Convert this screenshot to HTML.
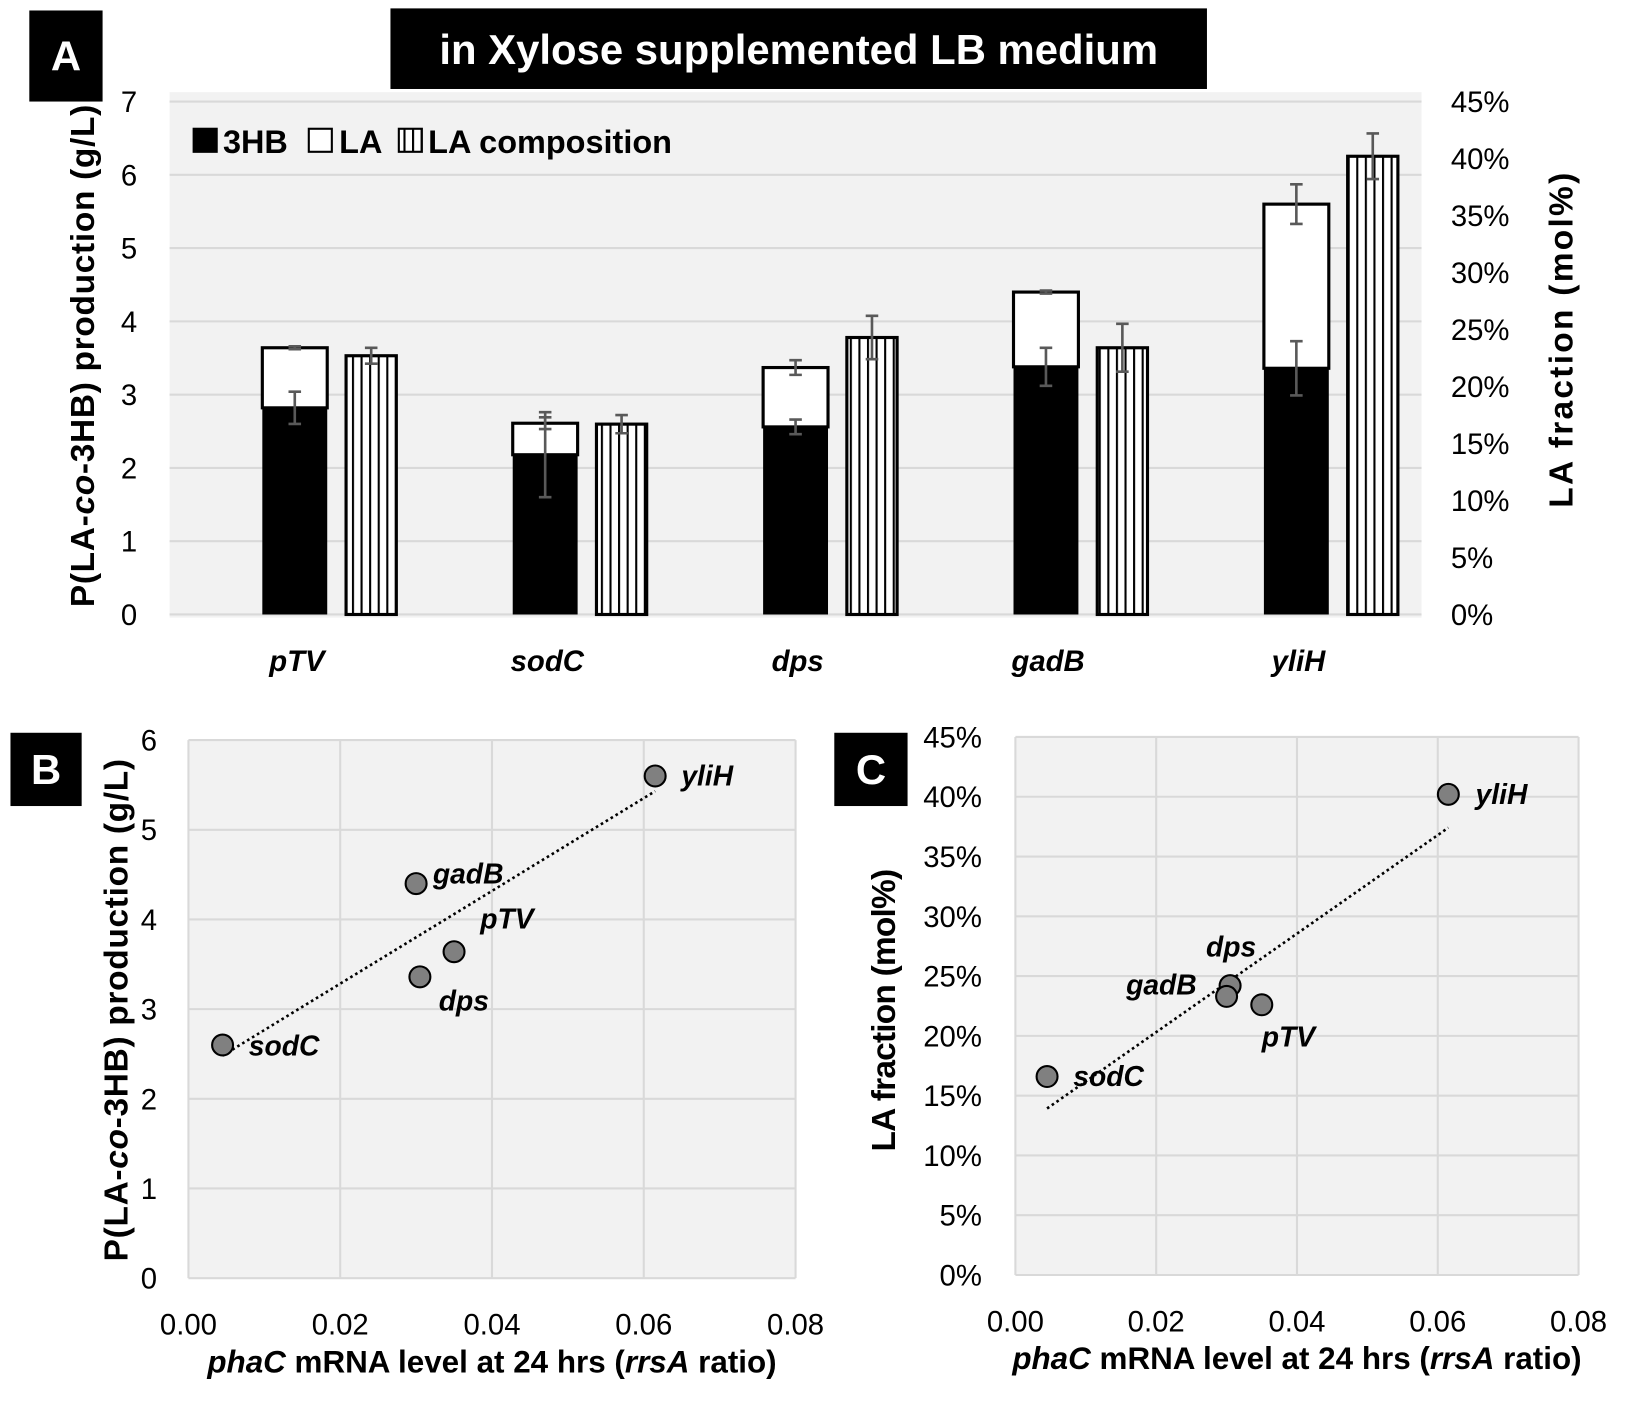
<!DOCTYPE html>
<html><head><meta charset="utf-8"><style>
html,body{margin:0;padding:0;background:#fff;}
svg{display:block;font-family:"Liberation Sans",sans-serif;}
</style></head><body>
<svg id="fig" width="1633" height="1402" viewBox="0 0 1560 1339.3" xmlns="http://www.w3.org/2000/svg">
<defs>
<pattern id="vh" patternUnits="userSpaceOnUse" width="8.2" height="10"><rect width="8.2" height="10" fill="#fff"/><rect x="0" width="2" height="10" fill="#000"/></pattern>
</defs>
<g id="gA"></g>
<g id="gB"></g>
<g id="gC"></g>
</svg>
<script>
const categories = ["pTV","sodC","dps","gadB","yliH"];
const hb3 = [2.82, 2.18, 2.56, 3.38, 3.36];
const hb3Err = [0.22, 0.58, 0.1, 0.26, 0.37];
const totals = [3.64, 2.61, 3.37, 4.40, 5.60];
const totalErr = [0.02, 0.08, 0.1, 0.02, 0.27];
const laComp = [22.7, 16.7, 24.3, 23.4, 40.2];
const laCompErr = [0.7, 0.8, 1.9, 2.1, 2.0];
const leftTicks = [0,1,2,3,4,5,6,7];
const rightTicks = [0,5,10,15,20,25,30,35,40,45];
const mrna = [0.035, 0.0045, 0.0305, 0.030, 0.0615];
const bTotals = [3.64, 2.60, 3.36, 4.40, 5.60];
const cFrac = [22.6, 16.6, 24.2, 23.3, 40.2];
const xTicks = [0, 0.02, 0.04, 0.06, 0.08];
const bTicks = [0,1,2,3,4,5,6];
const cTicks = [0,5,10,15,20,25,30,35,40,45];

const NS="http://www.w3.org/2000/svg";
function mk(parent, tag, attrs, text){
  const e=document.createElementNS(NS,tag);
  for(const k in attrs) e.setAttribute(k,attrs[k]);
  if(text!==undefined) e.textContent=text;
  parent.appendChild(e); return e;
}
function errBar(g,x,y1,y2,name){
  const e=mk(g,'path',{d:`M${x-6},${y1}H${x+6}M${x},${y1}V${y2}M${x-6},${y2}H${x+6}`,stroke:'#595959','stroke-width':2.5,fill:'none'});
  
  
}
function box(g,x,y,w,h,label,name){
  const r=mk(g,'rect',{x:x,y:y,width:w,height:h,fill:'#000'});
  
  
  const t=mk(g,'text',{x:x+w/2,y:y+h/2+14,'text-anchor':'middle','font-size':40,'font-weight':'bold',fill:'#fff'},label);
  
  
}

// ---------- Panel A ----------
(function(){
  const g=document.getElementById('gA');
  const X0=162,X1=1358,Y0=587,Y7=97;
  const yL=v=>Y0-(Y0-Y7)*v/7;
  const yR=v=>Y0-(Y0-Y7)*v/45;
  const bg=mk(g,'rect',{x:X0,y:88,width:X1-X0,height:Y0-88+3,fill:'#f2f2f2'});
  
  
  leftTicks.forEach(v=>{
    const l=mk(g,'line',{x1:X0,x2:X1,y1:yL(v),y2:yL(v),stroke:'#d9d9d9','stroke-width':2});
    
    
    const t=mk(g,'text',{x:131,y:yL(v)+10,'text-anchor':'end','font-size':28,fill:'#000'},String(v));
    
    
  });
  rightTicks.forEach(v=>{
    const t=mk(g,'text',{x:1386,y:yR(v)+10,'font-size':28,fill:'#000'},v+'%');
    
    
  });
  const cw=(X1-X0)/categories.length;
  categories.forEach((c,i)=>{
    const cx=X0+cw*(i+0.5);
    const bx=cx-31,bw=62;
    const r1=mk(g,'rect',{x:bx,y:yL(hb3[i]),width:bw,height:Y0-yL(hb3[i]),fill:'#000'});
    
    
    const r2=mk(g,'rect',{x:bx,y:yL(totals[i]),width:bw,height:yL(hb3[i])-yL(totals[i]),fill:'#fff',stroke:'#000','stroke-width':3});
    
    
    errBar(g,cx,yL(hb3[i]+hb3Err[i]),yL(hb3[i]-hb3Err[i]),'error-3hb-'+c);
    errBar(g,cx,yL(totals[i]+totalErr[i]),yL(totals[i]-totalErr[i]),'error-total-'+c);
    const hx=cx+49,hw=48;
    const r3=mk(g,'rect',{x:hx,y:yR(laComp[i]),width:hw,height:Y0-yR(laComp[i]),fill:'url(#vh)',stroke:'#000','stroke-width':3});
    
    
    errBar(g,hx+hw/2,yR(laComp[i]+laCompErr[i]),yR(laComp[i]-laCompErr[i]),'error-composition-'+c);
    const t=mk(g,'text',{x:cx+2,y:641,'text-anchor':'middle','font-size':28,'font-weight':'bold','font-style':'italic'},c);
    
    
  });
  // legend
  const lg=mk(g,'g',{});
  
  
  mk(lg,'rect',{x:184,y:122,width:24,height:24,fill:'#000'});
  mk(lg,'text',{x:213,y:146,'font-size':31,'font-weight':'bold'},'3HB');
  mk(lg,'rect',{x:295,y:123,width:22,height:22,fill:'#fff',stroke:'#000','stroke-width':2});
  mk(lg,'text',{x:324,y:146,'font-size':31,'font-weight':'bold'},'LA');
  mk(lg,'rect',{x:381,y:123,width:22,height:22,fill:'url(#vh)',stroke:'#000','stroke-width':2});
  mk(lg,'text',{x:409,y:146,'font-size':31,'font-weight':'bold'},'LA composition');
  // titles
  const yt=mk(g,'text',{x:0,y:0,transform:'translate(90,340) rotate(-90)','text-anchor':'middle','font-size':32,'font-weight':'bold','textLength':480});
  
  
  yt.innerHTML='P(LA-<tspan font-style="italic">co</tspan>-3HB) production (g/L)';
  const yt2=mk(g,'text',{x:0,y:0,transform:'translate(1502,325) rotate(-90)','text-anchor':'middle','font-size':32,'font-weight':'bold','textLength':320},'LA fraction (mol%)');
  
  
  const tb=mk(g,'rect',{x:373,y:8,width:780,height:77,fill:'#000'});
  
  
  const tt=mk(g,'text',{x:763,y:61,'text-anchor':'middle','font-size':40,'font-weight':'bold',fill:'#fff'},'in Xylose supplemented LB medium');
  
  
  box(g,28,10,70,87,'A','panel-a-label');
})();

function fit(xs,ys){
  const n=xs.length,mx=xs.reduce((a,b)=>a+b)/n,my=ys.reduce((a,b)=>a+b)/n;
  let sxy=0,sxx=0;xs.forEach((x,i)=>{sxy+=(x-mx)*(ys[i]-my);sxx+=(x-mx)*(x-mx);});
  const b=sxy/sxx;return [b,my-b*mx];
}

function scatter(g,X0,X1,Ytop,Ybot,yMax,ticks,vals,fmt,tickX,labelOff){
  const xS=v=>X0+(X1-X0)*v/0.08;
  const yS=v=>Ybot-(Ybot-Ytop)*v/yMax;
  const bg=mk(g,'rect',{x:X0,y:Ytop,width:X1-X0,height:Ybot-Ytop,fill:'#f2f2f2'});
  
  
  ticks.forEach(v=>{
    const l=mk(g,'line',{x1:X0,x2:X1,y1:yS(v),y2:yS(v),stroke:'#d9d9d9','stroke-width':2});
    
    
    const t=mk(g,'text',{x:tickX,y:yS(v)+10,'text-anchor':'end','font-size':28},fmt(v));
    
    
  });
  xTicks.forEach(v=>{
    const l=mk(g,'line',{x1:xS(v),x2:xS(v),y1:Ytop,y2:Ybot,stroke:'#d9d9d9','stroke-width':2});
    
    
    const t=mk(g,'text',{x:xS(v),y:Ybot+54,'text-anchor':'middle','font-size':28},v.toFixed(2));
    
    
  });
  const [b,a]=fit(mrna,vals);
  const xa=Math.min(...mrna),xb=Math.max(...mrna);
  const tl=mk(g,'line',{x1:xS(xa),y1:yS(a+b*xa),x2:xS(xb),y2:yS(a+b*xb),stroke:'#000','stroke-width':2.5,'stroke-dasharray':'2.5 3'});
  
  
  categories.forEach((c,i)=>{
    const p=mk(g,'circle',{cx:xS(mrna[i]),cy:yS(vals[i]),r:10,fill:'#808080',stroke:'#000','stroke-width':2});
    
    
    const o=labelOff[i];
    const t=mk(g,'text',{x:xS(mrna[i])+o[0],y:yS(vals[i])+o[1],'font-size':27,'font-weight':'bold','font-style':'italic'},c);
    
    
  });
  const xt=mk(g,'text',{x:(X0+X1)/2,y:Ybot+90,'text-anchor':'middle','font-size':30,'font-weight':'bold'});
  
  
  xt.innerHTML='<tspan font-style="italic">phaC</tspan> mRNA level at 24 hrs (<tspan font-style="italic">rrsA</tspan> ratio)';
}

// ---------- Panel B ----------
(function(){
  const g=document.getElementById('gB');
  scatter(g,180,760,707,1221,6,bTicks,bTotals,v=>String(v),150,
    [[25,-22],[25,10],[18,32],[16,0],[25,9]]);
  const yt=mk(g,'text',{x:0,y:0,transform:'translate(122,965) rotate(-90)','text-anchor':'middle','font-size':32,'font-weight':'bold','textLength':480});
  
  
  yt.innerHTML='P(LA-<tspan font-style="italic">co</tspan>-3HB) production (g/L)';
  box(g,10,700,68,70,'B','panel-b-label');
})();

// ---------- Panel C ----------
(function(){
  const g=document.getElementById('gC');
  scatter(g,970,1508,704,1218,45,cTicks,cFrac,v=>v+'%',938,
    [[0,40],[25,9],[-23,-28],[-96,-2],[26,9]]);
  const yt=mk(g,'text',{x:0,y:0,transform:'translate(855,965) rotate(-90)','text-anchor':'middle','font-size':32,'font-weight':'bold','textLength':270},'LA fraction (mol%)');
  
  
  box(g,797,700,70,70,'C','panel-c-label');
})();
</script>
</body></html>
